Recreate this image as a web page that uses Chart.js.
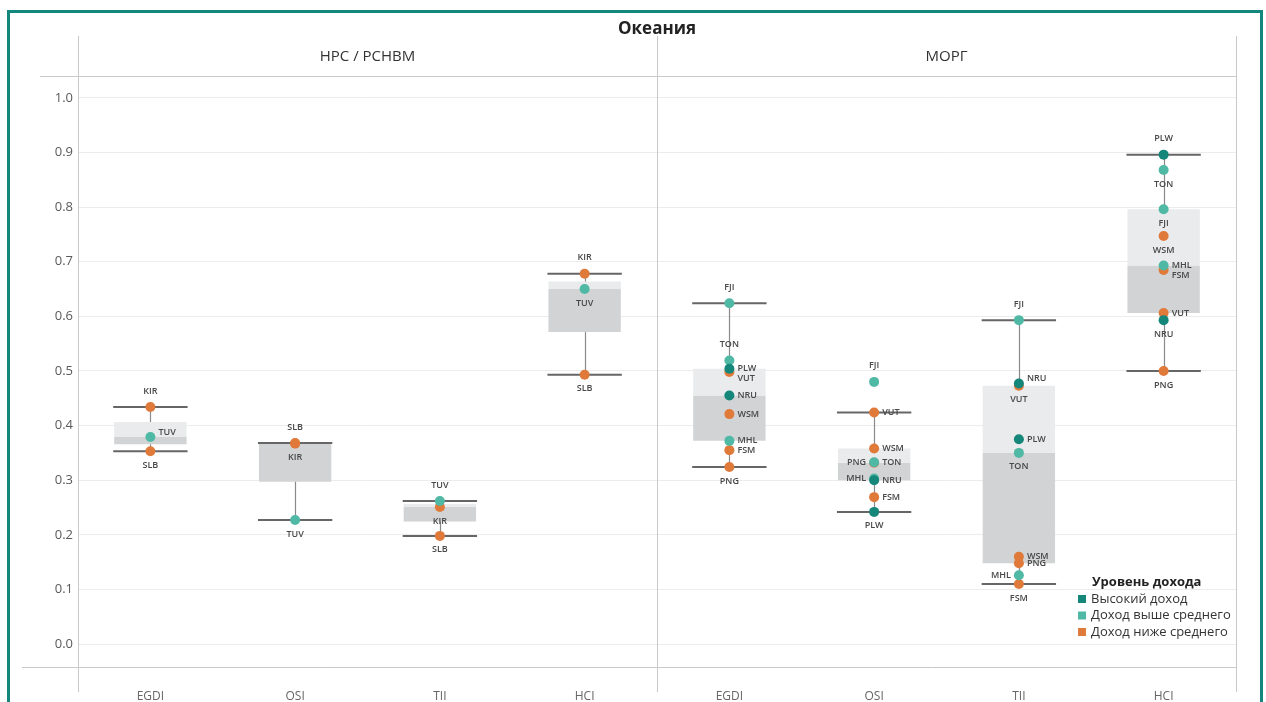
<!DOCTYPE html>
<html lang="ru">
<head>
<meta charset="utf-8">
<title>Океания</title>
<script src="https://cdn.jsdelivr.net/npm/chart.js@4.4.1/dist/chart.umd.min.js"></script>
<style>
  html, body { margin: 0; padding: 0; background: #fff; }
  #wrap { position: relative; width: 1266px; height: 702px; }
</style>
</head>
<body>
<div id="wrap"><canvas id="oceaniaChart"></canvas></div>
<script>
// Оценки по индексам ООН, Океания: группы НРС/РСНВМ и МОРГ

const panelTitles = ['НРС / РСНВМ', 'МОРГ'];
const indexNames = ['EGDI', 'OSI', 'TII', 'HCI'];
const incomeNames = ['Высокий доход', 'Доход выше среднего', 'Доход ниже среднего'];
const yTicks = [0, 0.1, 0.2, 0.3, 0.4, 0.5, 0.6, 0.7, 0.8, 0.9, 1.0];

// НРС / РСНВМ
const ldcCodes = ['KIR', 'SLB', 'TUV'];
const ldcIncome = [2, 2, 1];
const ldcEGDI = [0.434, 0.353, 0.379];
const ldcOSI = [0.367, 0.368, 0.227];
const ldcTII = [0.251, 0.198, 0.262];
const ldcHCI = [0.678, 0.493, 0.650];

// МОРГ
const sidsCodes = ['FJI', 'FSM', 'MHL', 'NRU', 'PLW', 'PNG', 'TON', 'VUT', 'WSM'];
const sidsIncome = [1, 2, 1, 0, 0, 2, 1, 2, 2];
const sidsEGDI = [0.624, 0.355, 0.372, 0.455, 0.504, 0.324, 0.519, 0.498, 0.421];
const sidsOSI = [0.480, 0.269, 0.303, 0.300, 0.242, 0.332, 0.333, 0.424, 0.358];
const sidsTII = [0.593, 0.110, 0.126, 0.477, 0.375, 0.148, 0.350, 0.473, 0.160];
const sidsHCI = [0.796, 0.685, 0.693, 0.593, 0.896, 0.500, 0.868, 0.606, 0.747];

// где ставить подпись страны: a - сверху, b - снизу, r/l - справа/слева, rt/rb - справа чуть выше/ниже
const ldcSides = [
  ['a', 'b', 'rt'],
  ['b', 'a', 'b'],
  ['b', 'b', 'a'],
  ['a', 'b', 'b']
];
const sidsSides = [
  // FJI  FSM   MHL  NRU   PLW  PNG  TON  VUT   WSM
  ['a', 'r', 'r', 'r', 'r', 'b', 'a', 'rb', 'r'],
  ['a', 'r', 'l', 'r', 'b', 'l', 'r', 'r', 'r'],
  ['a', 'b', 'l', 'rt', 'r', 'r', 'b', 'b', 'r'],
  ['b', 'rb', 'r', 'b', 'a', 'b', 'b', 'r', 'b']
];

const incomeColors = ['#14867a', '#50b9a5', '#e07a3a'];
const boxLow = '#d1d3d5';
const boxHigh = '#e9ebec';
const frameColor = '#13867d';
const lineColor = '#c9c9c9';

const columns = [ldcEGDI, ldcOSI, ldcTII, ldcHCI]
  .map((vals, k) => ({ codes: ldcCodes, income: ldcIncome, values: vals, sides: ldcSides[k] }))
  .concat([sidsEGDI, sidsOSI, sidsTII, sidsHCI]
    .map((vals, k) => ({ codes: sidsCodes, income: sidsIncome, values: vals, sides: sidsSides[k] })));

// квартили с линейной интерполяцией, усы по правилу 1.5 IQR
function quantile(sorted, p) {
  const pos = (sorted.length - 1) * p;
  const lo = Math.floor(pos), hi = Math.ceil(pos);
  return sorted[lo] + (sorted[hi] - sorted[lo]) * (pos - lo);
}
function boxStats(values) {
  const s = [...values].sort((a, b) => a - b);
  const q1 = quantile(s, 0.25), med = quantile(s, 0.5), q3 = quantile(s, 0.75);
  const iqr = q3 - q1;
  const lo = s.find(v => v >= q1 - 1.5 * iqr);
  const hi = [...s].reverse().find(v => v <= q3 + 1.5 * iqr);
  return { q1, med, q3, lo, hi };
}
const stats = columns.map(c => boxStats(c.values));

function pointsFor(group) {
  const pts = [];
  columns.forEach((c, i) => {
    c.values.forEach((v, j) => {
      if (c.income[j] === group) pts.push({ x: i, y: v, code: c.codes[j], side: c.sides[j] });
    });
  });
  return pts;
}

const FONT = "'Open Sans', 'DejaVu Sans', sans-serif";
Chart.defaults.font.family = FONT;
Chart.defaults.color = '#666';

const decor = {
  id: 'decor',
  beforeDatasetsDraw(chart) {
    const { ctx, chartArea: a, scales: { x } } = chart;
    const mid = Math.round(x.getPixelForValue(3.5));
    ctx.save();
    ctx.strokeStyle = lineColor;
    ctx.lineWidth = 1;
    ctx.beginPath();
    ctx.moveTo(40, a.top + 0.5); ctx.lineTo(a.right, a.top + 0.5);
    ctx.moveTo(22, a.bottom + 0.5); ctx.lineTo(a.right, a.bottom + 0.5);
    [Math.round(a.left), mid, Math.round(a.right)].forEach(px => {
      ctx.moveTo(px + 0.5, 36); ctx.lineTo(px + 0.5, 692);
    });
    ctx.stroke();
    ctx.restore();
  },
  afterDatasetDraw(chart, args) {
    if (chart.data.datasets[args.index].boxPart !== 'upper') return;
    const { ctx, scales: { y } } = chart;
    ctx.save();
    args.meta.data.forEach((bar, i) => {
      const st = stats[i];
      const cx = Math.round(bar.x) + 0.5;
      const half = bar.width / 2 + 1;
      ctx.strokeStyle = '#8a8a8a';
      ctx.lineWidth = 1.2;
      ctx.beginPath();
      ctx.moveTo(cx, y.getPixelForValue(st.q3)); ctx.lineTo(cx, y.getPixelForValue(st.hi));
      ctx.moveTo(cx, y.getPixelForValue(st.q1)); ctx.lineTo(cx, y.getPixelForValue(st.lo));
      ctx.stroke();
      ctx.strokeStyle = '#666';
      ctx.lineWidth = 2;
      ctx.beginPath();
      [st.hi, st.lo].forEach(v => {
        const py = y.getPixelForValue(v);
        ctx.moveTo(bar.x - half, py); ctx.lineTo(bar.x + half, py);
      });
      ctx.stroke();
    });
    ctx.restore();
  },
  afterDatasetsDraw(chart) {
    const { ctx } = chart;
    ctx.save();
    ctx.font = '600 9px ' + FONT;
    ctx.fillStyle = '#484848';
    ctx.textBaseline = 'middle';
    chart.data.datasets.forEach((ds, di) => {
      if (ds.type !== 'scatter') return;
      chart.getDatasetMeta(di).data.forEach((pt, j) => {
        const { code, side } = ds.data[j];
        let tx = pt.x, ty = pt.y, align = 'center';
        if (side === 'a') ty -= 16;
        else if (side === 'b') ty += 14;
        else if (side === 'l') { tx -= 8; align = 'right'; }
        else {
          tx += 8; align = 'left';
          if (side === 'rt') ty -= 5;
          if (side === 'rb') ty += 6;
        }
        ctx.textAlign = align;
        ctx.fillText(code, tx, ty);
      });
    });
    ctx.restore();
  },
  afterDraw(chart) {
    const { ctx, chartArea: a, scales: { x } } = chart;
    const mid = x.getPixelForValue(3.5);
    ctx.save();
    ctx.textBaseline = 'middle';
    ctx.textAlign = 'center';
    ctx.fillStyle = '#222';
    ctx.font = 'bold 17px ' + FONT;
    ctx.fillText('Океания', mid, 29);
    ctx.fillStyle = '#333';
    ctx.font = '15px ' + FONT;
    ctx.fillText(panelTitles[0], (a.left + mid) / 2, 57);
    ctx.fillText(panelTitles[1], (mid + a.right) / 2, 57);

    // легенда
    ctx.textAlign = 'left';
    ctx.fillStyle = '#222';
    ctx.font = 'bold 13px ' + FONT;
    ctx.fillText('Уровень дохода', 1092, 582);
    ctx.font = '13px ' + FONT;
    incomeNames.forEach((name, k) => {
      const ly = 599 + k * 16.5;
      ctx.fillStyle = incomeColors[k];
      ctx.fillRect(1078, ly - 4, 8, 8);
      ctx.fillStyle = '#333';
      ctx.fillText(name, 1091, ly);
    });

    // рамка
    ctx.strokeStyle = frameColor;
    ctx.lineWidth = 3;
    ctx.beginPath();
    ctx.moveTo(8.5, 702); ctx.lineTo(8.5, 11.5); ctx.lineTo(1261.5, 11.5); ctx.lineTo(1261.5, 702);
    ctx.stroke();
    ctx.restore();
  }
};

const boxDefaults = { type: 'bar', grouped: false, barPercentage: 0.5, categoryPercentage: 1, borderWidth: 0 };

new Chart(document.getElementById('oceaniaChart'), {
  type: 'scatter',
  data: {
    datasets: [
      Object.assign({}, boxDefaults, {
        label: 'q1-median', boxPart: 'lower', order: 11, backgroundColor: boxLow,
        data: stats.map((s, i) => ({ x: i, y: [s.q1, s.med] }))
      }),
      Object.assign({}, boxDefaults, {
        label: 'median-q3', boxPart: 'upper', order: 10, backgroundColor: boxHigh,
        data: stats.map((s, i) => ({ x: i, y: [s.med, s.q3] }))
      }),
      ...[2, 1, 0].map(g => ({
        type: 'scatter',
        label: incomeNames[g],
        order: g + 1,
        data: pointsFor(g),
        backgroundColor: incomeColors[g],
        borderWidth: 0,
        pointRadius: 5,
        pointHoverRadius: 5
      }))
    ]
  },
  options: {
    responsive: true,
    maintainAspectRatio: false,
    animation: false,
    layout: { padding: { top: 76, right: 30, left: 0, bottom: 0 } },
    plugins: {
      legend: { display: false },
      tooltip: { enabled: false }
    },
    scales: {
      x: {
        type: 'linear',
        min: -0.5,
        max: 7.5,
        offset: false,
        grid: { display: false },
        border: { display: false },
        afterBuildTicks: scale => { scale.ticks = [0, 1, 2, 3, 4, 5, 6, 7].map(v => ({ value: v })); },
        afterFit: scale => { scale.height = 35; },
        ticks: {
          autoSkip: false,
          maxRotation: 0,
          padding: 14,
          color: '#666',
          font: { size: 12 },
          callback: v => indexNames[v % 4]
        }
      },
      y: {
        min: -0.042,
        max: 1.04,
        grid: { color: '#ececec', drawTicks: false },
        border: { display: false },
        afterBuildTicks: scale => { scale.ticks = yTicks.map(v => ({ value: v })); },
        afterFit: scale => { scale.width = 78; },
        ticks: {
          padding: 5,
          color: '#5a5a5a',
          font: { size: 13 },
          callback: v => v.toFixed(1)
        }
      }
    }
  },
  plugins: [decor]
});
</script>
</body>
</html>
